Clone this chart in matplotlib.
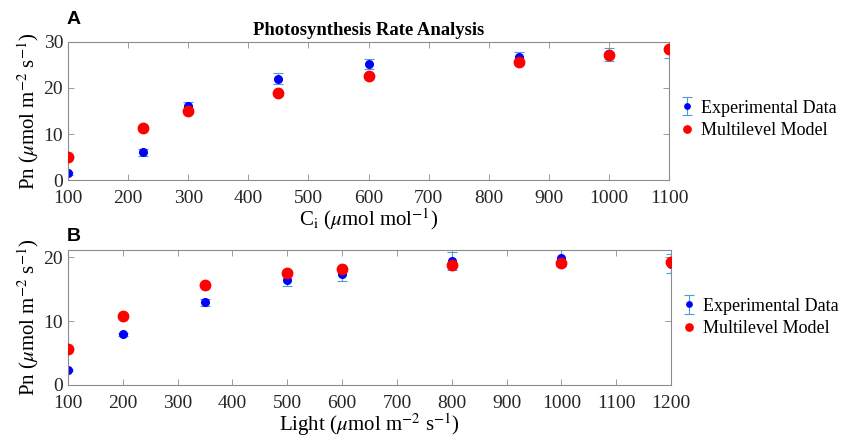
import matplotlib.pyplot as plt
import numpy as np

plt.rcParams['font.family'] = 'Liberation Serif'
plt.rcParams['mathtext.fontset'] = 'stix'

# panel A: CO2 response
ci = [100, 225, 300, 450, 600, 850, 1000, 1100]
ci_exp = [1.45, 6.0, 16.05, 22.05, 25.2, 26.75, 27.3, 28.3]
ci_err = [0.3, 0.8, 0.8, 1.2, 1.15, 1.1, 1.35, 1.7]
ci_model = [5.06, 11.35, 14.97, 19.0, 22.56, 25.6, 27.26, 28.56]

# panel B: light response
light = [100, 200, 350, 500, 600, 800, 1000, 1200]
light_exp = [2.35, 7.9, 12.9, 16.4, 17.4, 19.43, 19.84, 18.95]
light_err = [0.2, 0.2, 0.5, 0.9, 1.1, 1.4, 1.3, 1.5]
light_model = [5.7, 10.76, 15.56, 17.5, 18.17, 18.8, 19.06, 19.27]

fig = plt.figure(figsize=(8.45, 4.41), dpi=100)
axA = fig.add_axes([0.0805, 0.5918, 0.7112, 0.313])
axB = fig.add_axes([0.0805, 0.127, 0.7135, 0.306])

ylab = r'Pn ($\mu$mol m$^{\mathrm{-2}}$ s$^{\mathrm{-1}}$)'
err_col = '#4a9fd0'
spine_col = '#8c8c8c'


def draw(ax, x, y_exp, y_err, y_model, xlim, ylim, xticks, yticks, xlabel, leg_y):
    h1 = ax.errorbar(x, y_exp, yerr=y_err, fmt='o', color='blue', ecolor=err_col,
                     elinewidth=0.8, capsize=3.5, capthick=0.8, markersize=5.5,
                     label='Experimental Data', zorder=2)
    h2, = ax.plot(x, y_model, 'o', color='red', markersize=7.5,
                  label='Multilevel Model', zorder=3)
    ax.set_xlim(xlim)
    ax.set_ylim(ylim)
    ax.set_xticks(xticks)
    ax.set_yticks(yticks)
    ax.tick_params(direction='in', top=True, right=True, labelsize=14,
                   colors='#262626', length=4, width=0.6, color=spine_col)
    ax.tick_params(axis='x', pad=7)
    for s in ax.spines.values():
        s.set_color(spine_col)
        s.set_linewidth(0.8)
    ax.set_xlabel(xlabel, fontsize=15, labelpad=0)
    ax.set_ylabel(ylab, fontsize=15, labelpad=2)
    ax.legend([h1, h2], ['Experimental Data', 'Multilevel Model'],
              loc='center left', bbox_to_anchor=(1.0, leg_y), frameon=False,
              fontsize=13, handletextpad=0.2, borderaxespad=0.0,
              markerscale=0.7, labelspacing=0.3, handlelength=1.2)


draw(axA, ci, ci_exp, ci_err, ci_model, (100, 1100), (0, 30),
     np.arange(100, 1101, 100), [0, 10, 20, 30],
     r'C$_\mathrm{i}$ ($\mu$mol mol$^{\mathrm{-1}}$)', 0.44)
draw(axB, light, light_exp, light_err, light_model, (100, 1200), (0, 21.1),
     np.arange(100, 1201, 100), [0, 10, 20],
     r'Light ($\mu$mol m$^{\mathrm{-2}}$ s$^{\mathrm{-1}}$)', 0.5)

axA.set_title('Photosynthesis Rate Analysis', fontsize=13.4, fontweight='bold', pad=5)
fig.text(0.079, 0.955, 'A', fontsize=14, fontweight='bold', family='Liberation Sans', va='center')
fig.text(0.079, 0.463, 'B', fontsize=14, fontweight='bold', family='Liberation Sans', va='center')

plt.savefig('out.png', dpi=100)
